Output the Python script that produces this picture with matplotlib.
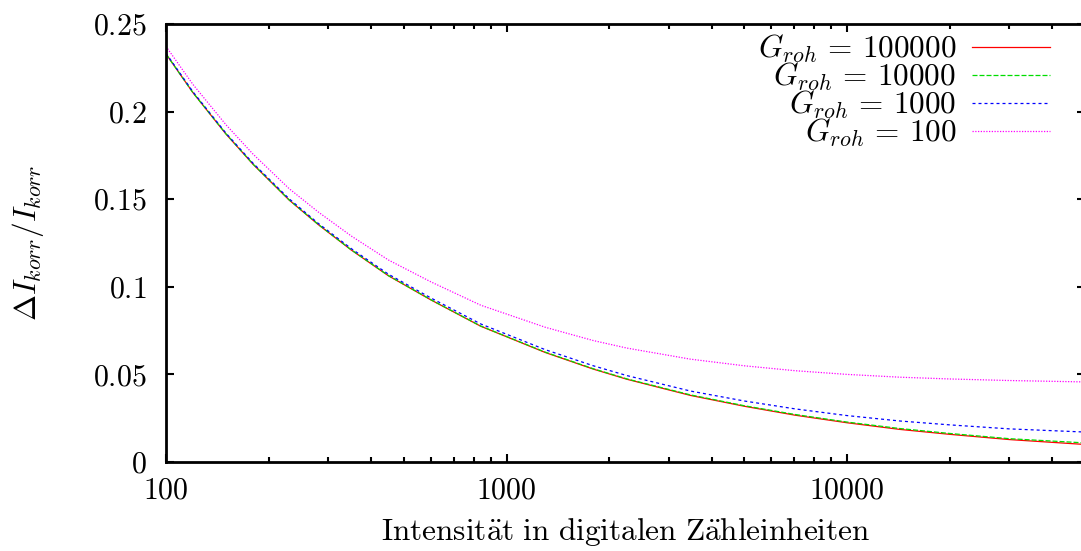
import numpy as np
import matplotlib
matplotlib.use("Agg")
import matplotlib.pyplot as plt
from matplotlib.ticker import FixedLocator, FuncFormatter, LogLocator, NullFormatter

plt.rcParams['mathtext.fontset'] = 'cm'
plt.rcParams['font.family'] = 'serif'
plt.rcParams['font.serif'] = ['cmr10', 'DejaVu Serif']
plt.rcParams['axes.formatter.use_mathtext'] = True

# values
intensity = [100, 120, 150, 180, 230, 280, 350, 450, 600, 840, 1300, 1800, 2260,
             3470, 5000, 7050, 10000, 14300, 20000, 30000, 50000]
g_100000 = [0.2329, 0.2108, 0.1872, 0.1700, 0.1495, 0.1355, 0.1210, 0.1063, 0.0925, 0.0775, 0.0625,
            0.0530, 0.0472, 0.0380, 0.0318, 0.0267, 0.0224, 0.0186, 0.0158, 0.0128, 0.0100]
g_10000 = [0.2329, 0.2108, 0.1873, 0.1701, 0.1496, 0.1356, 0.1211, 0.1064, 0.0926, 0.0776, 0.0627,
           0.0532, 0.0474, 0.0383, 0.0321, 0.0271, 0.0228, 0.0191, 0.0163, 0.0133, 0.0109]
g_1000 = [0.2333, 0.2113, 0.1877, 0.1706, 0.1502, 0.1362, 0.1218, 0.1072, 0.0936, 0.0788, 0.0641,
          0.0549, 0.0493, 0.0405, 0.0348, 0.0303, 0.0265, 0.0234, 0.0212, 0.0189, 0.0171]
g_100 = [0.2372, 0.2155, 0.1925, 0.1758, 0.1560, 0.1427, 0.1290, 0.1153, 0.1028, 0.0895, 0.0769,
         0.0693, 0.0650, 0.0587, 0.0549, 0.0521, 0.0500, 0.0484, 0.0474, 0.0465, 0.0457]

labels = ['100000', '10000', '1000', '100']
yticks = [0, 0.05, 0.1, 0.15, 0.2, 0.25]
ytick_labels = ['0', '0.05', '0.1', '0.15', '0.2', '0.25']
xticks = [100, 1000, 10000]

fig = plt.figure(figsize=(10.81, 5.51), dpi=100)
ax = fig.add_axes([166 / 1081, 89 / 551, 919 / 1081, 438 / 551])

lw = 0.9
ax.plot(intensity, g_100000, color='#ff0000', lw=lw, label=r'$G_{roh}\,=\,%s$' % labels[0])
ax.plot(intensity, g_10000, color='#00dd00', lw=lw, dashes=(4, 1.6), label=r'$G_{roh}\,=\,%s$' % labels[1])
ax.plot(intensity, g_1000, color='#0000ff', lw=lw, dashes=(2.4, 2.4), label=r'$G_{roh}\,=\,%s$' % labels[2])
ax.plot(intensity, g_100, color='#ff00ff', lw=lw, dashes=(1, 1.2), label=r'$G_{roh}\,=\,%s$' % labels[3])

ax.set_xscale('log')
ax.set_xlim(100, 50000)
ax.set_ylim(0, 0.25)

ax.xaxis.set_major_locator(FixedLocator(xticks))
ax.xaxis.set_major_formatter(FuncFormatter(lambda v, p: r'$%d$' % v))
ax.xaxis.set_minor_locator(LogLocator(base=10, subs=np.arange(2, 10)))
ax.xaxis.set_minor_formatter(NullFormatter())
ax.yaxis.set_major_locator(FixedLocator(yticks))
ax.set_yticklabels([r'$%s$' % t for t in ytick_labels])

for s in ax.spines.values():
    s.set_linewidth(2.0)
ax.tick_params(which='both', direction='in', top=True, right=True, labelsize=21.5)
ax.tick_params(which='major', length=6, width=1.5)
ax.tick_params(which='minor', length=3.5, width=1.5)
ax.tick_params(axis='x', pad=11)
ax.tick_params(axis='y', pad=14)

ax.set_xlabel(r'$\mathrm{Intensit\ddot{a}t\ in\ digitalen\ Z\ddot{a}hleinheiten}$', fontsize=22.5, labelpad=8)
ax.set_ylabel(r'$\Delta I_{korr}/I_{korr}$', fontsize=22.5, labelpad=34)

ax.legend(loc='upper right', bbox_to_anchor=(1050 / 1081, 1 - 33 / 551),
          bbox_transform=fig.transFigure, frameon=False, fontsize=22.5,
          markerfirst=False, handlelength=2.5, handletextpad=0.5,
          labelspacing=-0.14, borderpad=0, borderaxespad=0)

fig.savefig('out.png', dpi=100)
